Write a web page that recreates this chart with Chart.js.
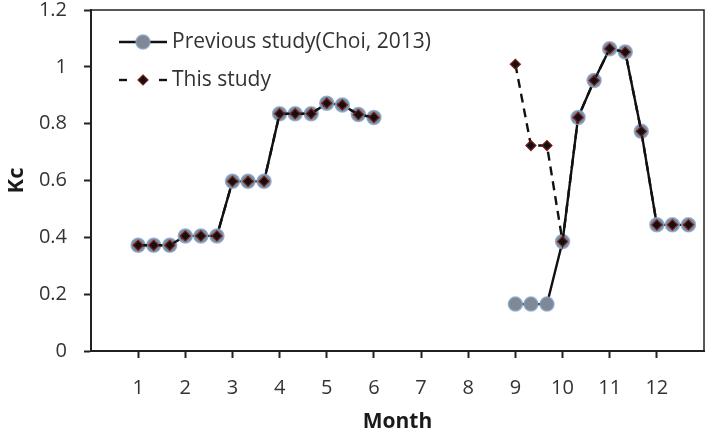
<!DOCTYPE html>
<html>
<head>
<meta charset="utf-8">
<script src="https://cdn.jsdelivr.net/npm/chart.js@4.4.1/dist/chart.umd.min.js"></script>
<style>
  html, body { margin: 0; padding: 0; background: #fff; }
  #wrap { width: 714px; height: 435px; }
</style>
</head>
<body>
<div id="wrap"><canvas id="kcChart" width="714" height="435"></canvas></div>
<script>
// decades expressed as month positions (3 per month), null breaks the line
var decades = [1, 1.33, 1.67, 2, 2.33, 2.67, 3, 3.33, 3.67, 4, 4.33, 4.67, 5, 5.33, 5.67, 6,
               7.5,
               9, 9.33, 9.67, 10, 10.33, 10.67, 11, 11.33, 11.67, 12, 12.33, 12.67];
var previousKc = [0.372, 0.372, 0.372, 0.405, 0.405, 0.405, 0.597, 0.597, 0.597, 0.835, 0.835, 0.835, 0.872, 0.866, 0.832, 0.822,
                  null,
                  0.165, 0.165, 0.165, 0.385, 0.822, 0.952, 1.064, 1.052, 0.773, 0.444, 0.444, 0.444];
var thisKc = [0.372, 0.372, 0.372, 0.405, 0.405, 0.405, 0.597, 0.597, 0.597, 0.835, 0.835, 0.835, 0.872, 0.866, 0.832, 0.822,
              null,
              1.009, 0.723, 0.723, 0.385, 0.822, 0.952, 1.064, 1.052, 0.773, 0.444, 0.444, 0.444];
var monthTicks = [1, 2, 3, 4, 5, 6, 7, 8, 9, 10, 11, 12];
var kcTicks = [0, 0.2, 0.4, 0.6, 0.8, 1, 1.2];
var seriesNames = ['Previous study(Choi, 2013)', 'This study'];

function toPoints(ys) {
    return decades.map(function (x, i) { return { x: x, y: ys[i] }; });
}

var tickFont = { family: "'Open Sans', sans-serif", size: 20 };
var textColor = '#333';

// box round the plot + legend inside the plot area
var frameAndLegend = {
    id: 'frameAndLegend',
    afterDatasetsDraw: function (chart) {
        var ctx = chart.ctx, a = chart.chartArea;
        ctx.save();
        ctx.strokeStyle = '#222';
        ctx.lineWidth = 1.5;
        ctx.strokeRect(a.left, a.top, a.right - a.left, a.bottom - a.top);

        var x0 = 119, x1 = 167, xm = 143;
        // row 1: solid line + grey circle
        var y1 = 42;
        ctx.strokeStyle = '#111';
        ctx.lineWidth = 2.4;
        ctx.beginPath(); ctx.moveTo(x0, y1); ctx.lineTo(x1, y1); ctx.stroke();
        ctx.beginPath(); ctx.arc(xm, y1, 7, 0, Math.PI * 2);
        ctx.fillStyle = '#7f8894'; ctx.fill();
        ctx.strokeStyle = 'rgba(130,165,205,0.8)'; ctx.lineWidth = 1.5; ctx.stroke();
        // row 2: dashes + diamond
        var y2 = 80;
        ctx.strokeStyle = '#111';
        ctx.lineWidth = 2.4;
        ctx.beginPath(); ctx.moveTo(x0, y2); ctx.lineTo(x0 + 8, y2); ctx.stroke();
        ctx.beginPath(); ctx.moveTo(x1 - 8, y2); ctx.lineTo(x1, y2); ctx.stroke();
        ctx.beginPath();
        ctx.moveTo(xm, y2 - 5); ctx.lineTo(xm + 5, y2); ctx.lineTo(xm, y2 + 5); ctx.lineTo(xm - 5, y2);
        ctx.closePath();
        ctx.fillStyle = '#111'; ctx.fill();
        ctx.strokeStyle = '#7a1c1c'; ctx.lineWidth = 1.2; ctx.stroke();

        ctx.fillStyle = textColor;
        ctx.font = "21px 'Open Sans', sans-serif";
        ctx.textBaseline = 'middle';
        ctx.textAlign = 'left';
        ctx.fillText(seriesNames[0], 172, y1);
        ctx.fillText(seriesNames[1], 172, y2);
        ctx.restore();
    }
};

var ctx = document.getElementById('kcChart');
var kcChart = new Chart(ctx, {
    type: 'line',
    data: {
        datasets: [
            {
                label: seriesNames[0],
                data: toPoints(previousKc),
                borderColor: '#111',
                borderWidth: 2.4,
                pointRadius: 7,
                pointBackgroundColor: '#7f8894',
                pointBorderColor: 'rgba(130,165,205,0.8)',
                pointBorderWidth: 1.5,
                spanGaps: false,
                tension: 0,
                order: 2
            },
            {
                label: seriesNames[1],
                data: toPoints(thisKc),
                borderColor: '#111',
                borderWidth: 2.4,
                borderDash: [9, 6],
                pointStyle: 'rectRot',
                pointRadius: 5,
                pointBackgroundColor: '#111',
                pointBorderColor: '#7a1c1c',
                pointBorderWidth: 1.2,
                spanGaps: false,
                tension: 0,
                order: 1
            }
        ]
    },
    options: {
        responsive: false,
        animation: false,
        layout: { padding: { top: 10, right: 10, left: 0, bottom: 0 } },
        plugins: {
            legend: { display: false },
            tooltip: { enabled: false }
        },
        scales: {
            x: {
                type: 'linear',
                min: 0,
                max: 13,
                afterBuildTicks: function (scale) {
                    scale.ticks = monthTicks.map(function (v) { return { value: v }; });
                },
                afterFit: function (scale) {
                    scale.height = 84;
                    scale.paddingLeft = 0;
                    scale.paddingRight = 0;
                },
                grid: { drawOnChartArea: false, drawTicks: true, tickLength: 7, tickColor: '#222', tickWidth: 2 },
                border: { display: true, color: '#222', width: 2 },
                ticks: { font: tickFont, color: textColor, padding: 18, maxRotation: 0, autoSkip: false },
                title: {
                    display: true,
                    text: 'Month',
                    font: { family: "'Open Sans', sans-serif", size: 21, weight: 'bold' },
                    color: '#1a1a1a',
                    padding: { top: 0, bottom: 0 }
                }
            },
            y: {
                min: 0,
                max: 1.2,
                afterBuildTicks: function (scale) {
                    scale.ticks = kcTicks.map(function (v) { return { value: v }; });
                },
                afterFit: function (scale) {
                    scale.width = 91;
                    scale.paddingTop = 0;
                    scale.paddingBottom = 0;
                },
                grid: { drawOnChartArea: false, drawTicks: true, tickLength: 7, tickColor: '#222', tickWidth: 2 },
                border: { display: true, color: '#222', width: 2 },
                ticks: {
                    font: tickFont,
                    color: textColor,
                    padding: 17,
                    callback: function (v) { return String(Math.round(v * 10) / 10); }
                },
                title: {
                    display: true,
                    text: 'Kc',
                    font: { family: "'Open Sans', sans-serif", size: 22, weight: 'bold' },
                    color: '#1a1a1a',
                    padding: { top: 4, bottom: 0 }
                }
            }
        }
    },
    plugins: [frameAndLegend]
});
</script>
</body>
</html>
